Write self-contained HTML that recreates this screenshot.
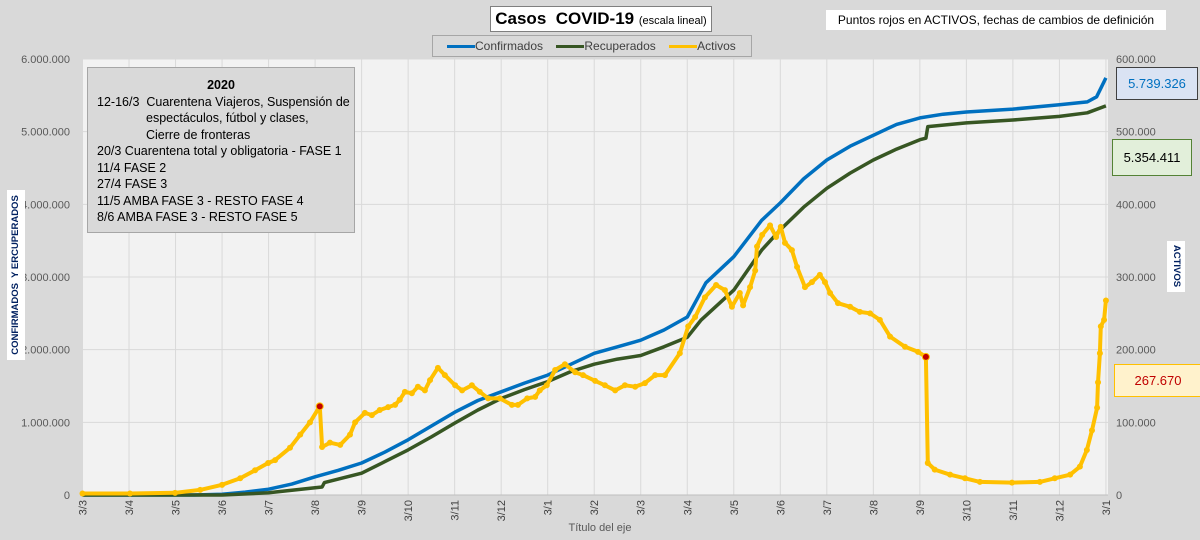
<!DOCTYPE html>
<html><head><meta charset="utf-8">
<style>
body{margin:0;background:#d9d9d9;font-family:"Liberation Sans",sans-serif}
#wrap{position:relative;width:1200px;height:540px;overflow:hidden;background:#d9d9d9}
svg text{font-family:"Liberation Sans",sans-serif}
</style></head><body>
<div id="wrap">
<svg id="chart" width="1200" height="540"></svg>
</div>
<script>
const xLabels=["3/3","3/4","3/5","3/6","3/7","3/8","3/9","3/10","3/11","3/12","3/1","3/2","3/3","3/4","3/5","3/6","3/7","3/8","3/9","3/10","3/11","3/12","3/1"];
const leftTicks=[0,1000000,2000000,3000000,4000000,5000000,6000000];
const leftTickLabels=["0","1.000.000","2.000.000","3.000.000","4.000.000","5.000.000","6.000.000"];
const rightTicks=[0,100000,200000,300000,400000,500000,600000];
const rightTickLabels=["0","100.000","200.000","300.000","400.000","500.000","600.000"];
const confMonths=[0,2.4,3,3.5,4,4.5,5,5.5,6,6.5,7,7.5,8,8.5,9,9.5,10,10.5,11,11.5,12,12.5,13,13.4,14,14.6,15,15.5,16,16.5,17,17.5,18,18.5,19,20,21,21.6,21.8,21.9,22];
const confirmados=[0,0,10000,40000,80000,150000,250000,340000,440000,590000,760000,950000,1140000,1300000,1420000,1540000,1650000,1800000,1950000,2040000,2130000,2270000,2450000,2920000,3280000,3780000,4020000,4350000,4610000,4800000,4950000,5100000,5190000,5240000,5270000,5310000,5370000,5410000,5480000,5610000,5739326];
const recMonths=[0,3,4,5,5.15,5.2,6,6.5,7,7.5,8,8.5,9,9.5,10,10.5,11,11.5,12,12.5,13,13.3,14,14.6,15,15.5,16,16.5,17,17.5,18,18.13,18.17,19,20,21,21.6,22];
const recuperados=[0,0,30000,100000,110000,170000,300000,460000,620000,800000,990000,1170000,1330000,1450000,1560000,1700000,1800000,1870000,1920000,2040000,2170000,2410000,2820000,3370000,3650000,3960000,4220000,4430000,4610000,4760000,4890000,4910000,5070000,5120000,5160000,5210000,5260000,5354411];
const actMonths=[0,1.02,1.99,2.53,3.0,3.39,3.71,3.99,4.14,4.46,4.68,4.89,5.10,5.15,5.32,5.54,5.75,5.86,6.07,6.22,6.39,6.57,6.72,6.82,6.93,7.08,7.21,7.36,7.47,7.64,7.79,8.01,8.16,8.37,8.54,8.72,8.97,9.23,9.36,9.56,9.73,9.83,9.98,10.16,10.37,10.59,10.76,11.02,11.23,11.45,11.66,11.88,12.09,12.31,12.52,12.84,13.02,13.17,13.38,13.62,13.81,13.96,14.13,14.20,14.35,14.46,14.50,14.61,14.78,14.91,15.01,15.10,15.25,15.36,15.53,15.68,15.85,15.96,16.07,16.24,16.50,16.71,16.93,17.14,17.36,17.68,17.96,18.13,18.17,18.32,18.65,18.97,19.29,19.98,20.58,20.90,21.23,21.44,21.59,21.70,21.81,21.83,21.87,21.89,21.96,22.0];
const activos=[2000,2000,3000,7000,14000,23000,34000,44000,48000,65000,83000,100000,122000,66000,72000,69000,83000,100000,113000,110000,117000,121000,124000,131000,142000,140000,149000,144000,158000,175000,165000,151000,144000,151000,142000,133000,133000,124000,124000,133000,135000,144000,151000,172000,180000,169000,165000,157000,151000,144000,151000,149000,154000,165000,165000,195000,232000,245000,272000,289000,282000,259000,278000,261000,286000,309000,342000,358000,371000,355000,369000,347000,337000,314000,286000,293000,303000,293000,278000,264000,259000,252000,250000,241000,218000,204000,197000,190000,44000,35000,28000,23000,18000,17000,18000,23000,28000,39000,62000,89000,120000,155000,195000,232000,241000,267670];
const markerMonths=[5.10,18.13];
const markerValues=[122000,190000];

const svg=document.getElementById('chart');
const NS="http://www.w3.org/2000/svg";
const X0=82.5,X1=1108,Y0=495,Y1=59;
const xs=m=>X0+m*46.52;
const yL=v=>Y0-(v/6000000)*(Y0-Y1);
const yR=v=>Y0-(v/600000)*(Y0-Y1);
function el(t,a,p){const e=document.createElementNS(NS,t);for(const k in a)e.setAttribute(k,a[k]);(p||svg).appendChild(e);return e;}

const plot=el('rect',{x:X0,y:Y1,width:X1-X0,height:Y0-Y1,fill:'#f2f2f2'});


leftTicks.forEach((v,i)=>{
  const g=el('line',{x1:X0,x2:X1,y1:yL(v),y2:yL(v),stroke:'#d9d9d9','stroke-width':1});
  
  
  const t=el('text',{x:70,y:yL(v)+4,'text-anchor':'end','font-size':11,fill:'#595959'});t.textContent=leftTickLabels[i];
  
  
});
rightTicks.forEach((v,i)=>{
  const t=el('text',{x:1116,y:yR(v)+4,'font-size':11,fill:'#595959'});t.textContent=rightTickLabels[i];
  
  
});
xLabels.forEach((l,i)=>{
  const x=xs(i);
  const g=el('line',{x1:x,x2:x,y1:Y1,y2:Y0,stroke:'#d9d9d9','stroke-width':1});
  
  
  const t=el('text',{x:x+4,y:500,'text-anchor':'end','font-size':11,fill:'#404040',transform:`rotate(-90 ${x+4} 500)`});t.textContent=l;
  
  
});
const ax=el('line',{x1:X0,x2:X1,y1:Y0,y2:Y0,stroke:'#bfbfbf'});



function line(ms,vs,yf,color,w,name){
  const d=ms.map((m,i)=>(i?'L':'M')+xs(m).toFixed(1)+','+yf(vs[i]).toFixed(1)).join('');
  const p=el('path',{d,fill:'none',stroke:color,'stroke-width':w,'stroke-linejoin':'round'});
  
  
}
line(confMonths,confirmados,yL,'#0070c0',3.5,'confirmados-line');
line(recMonths,recuperados,yL,'#375623',3.5,'recuperados-line');
line(actMonths,activos,yR,'#ffc000',4,'activos-line');
actMonths.forEach((m,i)=>{
  const c=el('circle',{cx:xs(m),cy:yR(activos[i]),r:3,fill:'#ffc000'});
  
  
});
markerMonths.forEach((m,i)=>{
  const c=el('circle',{cx:xs(m),cy:yR(markerValues[i]),r:3.5,fill:'#c00000',stroke:'#ffc000','stroke-width':1});
  
  
});
</script>
<div style="position:absolute;left:490px;top:6px;width:220px;height:24px;background:#fff;border:1px solid #7f7f7f;font-size:17px;font-weight:bold;line-height:24px;text-align:center">Casos&nbsp; COVID-19 <span style="font-size:11px;font-weight:normal">(escala lineal)</span></div>
<div style="position:absolute;left:826px;top:10px;width:340px;height:20px;background:#fff;font-size:12px;line-height:20px;text-align:center">Puntos rojos en ACTIVOS, fechas de cambios de definición</div>
<div style="position:absolute;left:432px;top:35px;width:318px;height:20px;border:1px solid #a6a6a6;font-size:12px;color:#404040;line-height:20px;white-space:nowrap">
<span style="margin-left:14px"><span style="display:inline-block;width:28px;height:3px;background:#0070c0;vertical-align:middle"></span>Confirmados</span>
<span style="margin-left:10px"><span style="display:inline-block;width:28px;height:3px;background:#375623;vertical-align:middle"></span>Recuperados</span>
<span style="margin-left:10px"><span style="display:inline-block;width:28px;height:3px;background:#ffc000;vertical-align:middle"></span>Activos</span>
</div>
<div style="position:absolute;left:87px;top:67px;width:268px;height:166px;background:#d9d9d9;border:1px solid #a6a6a6;font-size:12.5px;line-height:16.5px;color:#000;padding-top:9px;box-sizing:border-box">
<div style="text-align:center;font-weight:bold">2020</div>
<div style="padding-left:9px">12-16/3&nbsp; Cuarentena Viajeros, Suspensión de<br><span style="padding-left:49px">espectáculos, fútbol y clases,</span><br><span style="padding-left:49px">Cierre de fronteras</span><br>20/3&nbsp;Cuarentena total y obligatoria - FASE 1<br>11/4 FASE 2<br>27/4 FASE 3<br>11/5 AMBA FASE 3 - RESTO FASE 4<br>8/6 AMBA FASE 3 - RESTO FASE 5</div>
</div>
<div style="position:absolute;left:7px;top:190px;width:18px;height:170px;background:#fff;"><div style="position:absolute;left:-76px;top:76px;width:170px;height:18px;transform:rotate(-90deg);font-size:9.5px;font-weight:bold;color:#002060;text-align:center;line-height:18px">CONFIRMADOS&nbsp; Y ERCUPERADOS</div></div>
<div style="position:absolute;left:1167px;top:241px;width:18px;height:51px;background:#fff;"><div style="position:absolute;left:-16px;top:16px;width:50px;height:18px;transform:rotate(90deg);font-size:9.5px;font-weight:bold;color:#002060;text-align:center;line-height:18px">ACTIVOS</div></div>
<div style="position:absolute;left:1116px;top:67px;width:80px;height:31px;background:#dae3f3;border:1px solid #404040;color:#0070c0;font-size:13px;line-height:31px;text-align:center">5.739.326</div>
<div style="position:absolute;left:1112px;top:139px;width:78px;height:35px;background:#e2efda;border:1px solid #548235;color:#000;font-size:13px;line-height:35px;text-align:center">5.354.411</div>
<div style="position:absolute;left:1114px;top:364px;width:86px;height:31px;background:#fff2cc;border:1px solid #ffc000;color:#c00000;font-size:13px;line-height:31px;text-align:center">267.670</div>
<div style="position:absolute;left:540px;top:522px;width:120px;text-align:center;font-size:11px;color:#595959">Título del eje</div>
</body></html>
